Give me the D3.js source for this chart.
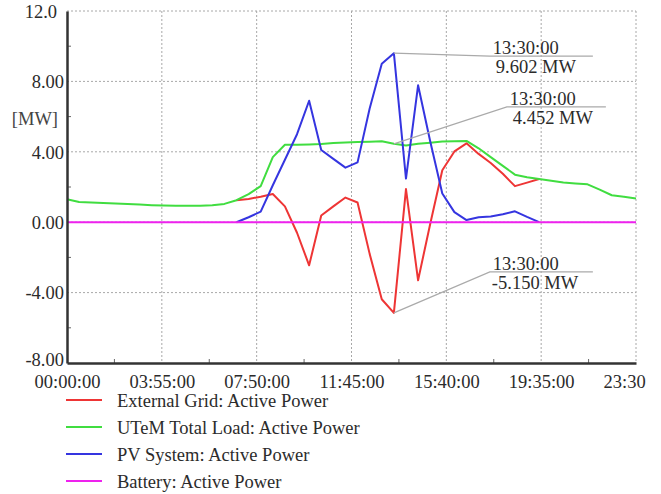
<!DOCTYPE html>
<html>
<head>
<meta charset="utf-8">
<script src="https://cdn.jsdelivr.net/npm/d3@7"></script>
<style>
body{margin:0;background:#fff;}
svg{display:block;}
svg text{font-family:"Liberation Serif","Times New Roman","DejaVu Serif",serif;}
</style>
</head>
<body>
<script>
const width = 661;
const height = 494;

// time of day, every 30 min
const loadTimes = ["00:00","00:30","01:00","01:30","02:00","02:30","03:00","03:30",
  "04:00","04:30","05:00","05:30","06:00","06:30","07:00","07:30",
  "08:00","08:30","09:00","09:30","10:00","10:30","11:00","11:30",
  "12:00","12:30","13:00","13:30","14:00","14:30","15:00","15:30",
  "16:00","16:30","17:00","17:30","18:00","18:30","19:00","19:30",
  "20:00","20:30","21:00","21:30","22:00","22:30","23:00","23:30"];
const loadValues = [1.30,1.15,1.12,1.09,1.06,1.03,1.00,0.97,
  0.95,0.94,0.94,0.94,0.96,1.04,1.25,1.60,
  2.05,3.70,4.40,4.40,4.42,4.45,4.50,4.53,
  4.55,4.57,4.60,4.452,4.36,4.46,4.52,4.58,
  4.60,4.62,4.20,3.70,3.20,2.70,2.55,2.45,
  2.35,2.25,2.20,2.15,1.85,1.53,1.45,1.35];

const dayTimes = ["07:00","07:30","08:00","08:30","09:00","09:30","10:00","10:30",
  "11:00","11:30","12:00","12:30","13:00","13:30","14:00","14:30",
  "15:00","15:30","16:00","16:30","17:00","17:30","18:00","18:30",
  "19:00","19:30"];
const pvValues = [0,0.28,0.60,2.10,3.55,5.00,6.90,4.10,
  3.60,3.10,3.40,6.46,9.00,9.602,2.48,7.78,
  4.60,1.63,0.57,0.12,0.28,0.32,0.45,0.62,
  0.30,0];
const gridValues = [1.25,1.32,1.45,1.60,0.90,-0.60,-2.45,0.38,
  0.90,1.40,1.12,-1.80,-4.38,-5.150,1.88,-3.30,
  -0.10,2.95,4.02,4.48,3.88,3.36,2.75,2.05,
  2.25,2.45];

const batteryTimes = ["00:00","23:30"];
const batteryValues = [0,0];

const seriesNames = ["External Grid: Active Power","UTeM Total Load: Active Power",
  "PV System: Active Power","Battery: Active Power"];
const seriesColors = ["#ee3535","#40dd40","#3535e0","#ee22ee"];

const xTickMinutes = [0,235,470,705,940,1175,1410];
const xTickLabels = ["00:00:00","03:55:00","07:50:00","11:45:00","15:40:00","19:35:00","23:30"];
const yTicks = [12,8,4,0,-4,-8];
const yTickLabels = ["12.0","8.00","4.00","0.00","-4.00","-8.00"];

const calloutTime = "13:30:00";
const calloutValues = [9.602,4.452,-5.150];

const FONT = "Liberation Serif, Times New Roman, DejaVu Serif, serif";
const FS = 18.5;
const toMin = s => { const p = s.split(":"); return +p[0]*60 + +p[1]; };
const pairs = (times, vals) => times.map((t,i)=>({t:toMin(t), v:vals[i]}));

const x = d3.scaleLinear().domain([0,1410]).range([67,636]);
const y = d3.scaleLinear().domain([-8,12]).range([363,11]);

const svg = d3.select("body").append("svg")
    .attr("width",width)
    .attr("height",height)
    .attr("font-family",FONT);

svg.append("rect").attr("width",width).attr("height",height).attr("fill","#fff");

// grid
svg.append("g").selectAll("line")
    .data(xTickMinutes.slice(1))
    .enter().append("line")
    .attr("x1",d=>x(d)).attr("x2",d=>x(d))
    .attr("y1",y(12)).attr("y2",y(-8))
    .attr("stroke","#a8a8a8").attr("stroke-dasharray","2,2");
svg.append("g").selectAll("line")
    .data(yTicks.slice(0,-1))
    .enter().append("line")
    .attr("x1",x(0)).attr("x2",x(1410))
    .attr("y1",d=>y(d)).attr("y2",d=>y(d))
    .attr("stroke","#a8a8a8").attr("stroke-dasharray","2,2");

// minor ticks
const xMinor = xTickMinutes.slice(1).map((d,i)=>(d+xTickMinutes[i])/2);
svg.append("g").selectAll("line")
    .data(xMinor).enter().append("line")
    .attr("x1",d=>x(d)).attr("x2",d=>x(d))
    .attr("y1",y(-8)).attr("y2",y(-8)-4)
    .attr("stroke","#666");
const yMinor = yTicks.slice(1).map((d,i)=>(d+yTicks[i])/2);
svg.append("g").selectAll("line")
    .data(yMinor).enter().append("line")
    .attr("x1",x(0)).attr("x2",x(0)+4)
    .attr("y1",d=>y(d)).attr("y2",d=>y(d))
    .attr("stroke","#666");

// series
const line = d3.line().x(d=>x(d.t)).y(d=>y(d.v));
const series = [
  pairs(dayTimes,gridValues),
  pairs(loadTimes,loadValues),
  pairs(dayTimes,pvValues),
  pairs(batteryTimes,batteryValues)
];
svg.append("g").selectAll("path")
    .data(series).enter().append("path")
    .attr("d",line)
    .attr("fill","none")
    .attr("stroke",(d,i)=>seriesColors[i])
    .attr("stroke-width",2)
    .attr("stroke-linejoin","round");

// axes
const yAxis = svg.append("g")
    .attr("transform",`translate(${x(0)},0)`)
    .call(d3.axisLeft(y).tickValues(yTicks).tickSize(0).tickSizeOuter(0).tickPadding(3)
      .tickFormat((d,i)=>yTickLabels[i]));
const xAxis = svg.append("g")
    .attr("transform",`translate(0,${y(-8)})`)
    .call(d3.axisBottom(x).tickValues(xTickMinutes).tickSize(0).tickSizeOuter(0).tickPadding(10)
      .tickFormat((d,i)=>xTickLabels[i]));
[yAxis,xAxis].forEach(a=>{
  a.attr("font-family",FONT).attr("font-size",FS);
  a.select(".domain").attr("stroke","#333").attr("stroke-width",2.5);
  a.selectAll("text").attr("fill","#2b2b2b");
});
const lastY = yTicks.length-1;
yAxis.selectAll("text")
    .attr("dy",(d,i)=>i===lastY ? "0.16em" : "0.34em")
    .attr("x",(d,i)=>i===0 ? -10 : -3);
xAxis.selectAll("text")
    .attr("dy","0.8em")
    .attr("text-anchor",(d,i)=>i===xTickMinutes.length-1 ? "start" : "middle")
    .attr("x",(d,i)=>i===xTickMinutes.length-1 ? -33 : 0);

svg.append("text")
    .attr("x",58).attr("y",y(6)+8)
    .attr("text-anchor","end")
    .attr("font-size",FS)
    .attr("fill","#444")
    .text("[MW]");

// callouts at 13:30
const calloutLayout = [{dx:96,dy:3,len:103},{dx:113,dy:-37,len:99},{dx:96,dy:-41,len:103}];
const cx = x(toMin(calloutTime));
calloutValues.forEach((v,i)=>{
  const L = calloutLayout[i];
  const px = cx, py = y(v);
  const ex = px+L.dx, ey = py+L.dy;
  svg.append("polyline")
      .attr("points",`${px},${py} ${ex},${ey} ${ex+L.len},${ey}`)
      .attr("fill","none").attr("stroke","#aaa").attr("stroke-width",1.2);
  svg.append("text")
      .attr("x",ex+3).attr("y",ey-2)
      .attr("font-size",FS).attr("fill","#2b2b2b")
      .text(calloutTime);
  svg.append("text")
      .attr("x",ex+(v<0 ? 2 : 6)).attr("y",ey+17)
      .attr("font-size",FS).attr("fill","#2b2b2b")
      .text(v.toFixed(3)+" MW");
});

// legend
const legend = svg.append("g").selectAll("g")
    .data(seriesNames).enter().append("g")
    .attr("transform",(d,i)=>`translate(0,${400+i*27})`);
legend.append("line")
    .attr("x1",66).attr("x2",102)
    .attr("stroke",(d,i)=>seriesColors[i]).attr("stroke-width",2);
legend.append("text")
    .attr("x",117).attr("y",7)
    .attr("font-size",FS).attr("fill","#2b2b2b")
    .text(d=>d);
</script>
</body>
</html>
